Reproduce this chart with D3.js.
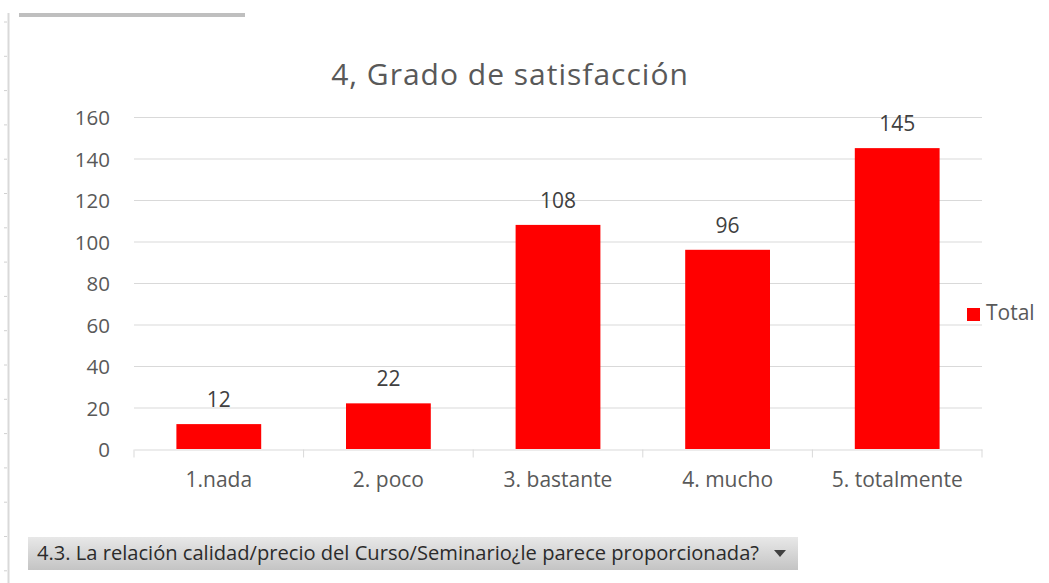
<!DOCTYPE html>
<html><head><meta charset="utf-8">
<script src="https://cdn.jsdelivr.net/npm/d3@7"></script>
<style>body{margin:0;background:#fff}svg{display:block}</style>
</head><body>
<script>
const categories = ["1.nada", "2. poco", "3. bastante", "4. mucho", "5. totalmente"];
const totals = [12, 22, 108, 96, 145];
const yTicks = [0, 20, 40, 60, 80, 100, 120, 140, 160];
const title = "4, Grado de satisfacción";
const seriesName = "Total";
const filterText = "4.3. La relación calidad/precio del  Curso/Seminario¿le parece proporcionada?";

const W = 1049, H = 583;
const svg = d3.select("body").append("svg").attr("width", W).attr("height", H);
const font = "'Open Sans', 'Noto Sans', sans-serif";

// left frame
svg.append("line").attr("x1", 8.5).attr("x2", 8.5).attr("y1", 13).attr("y2", H).attr("stroke", "#d9d9d9").attr("stroke-width", 2);
d3.range(22, H, 34.3).forEach(y => {
  svg.append("line").attr("x1", 4).attr("x2", 7).attr("y1", y).attr("y2", y).attr("stroke", "#d0d0d0");
});
svg.append("rect").attr("x", 19).attr("y", 13).attr("width", 226).attr("height", 4).attr("fill", "#bfbfbf");

const x = d3.scaleBand().domain(categories).range([134, 982]).paddingInner(0.5).paddingOuter(0.25);
const y = d3.scaleLinear().domain([0, 160]).range([449, 117]);

// gridlines
svg.append("g").selectAll("line").data(yTicks.filter(d => d > 0)).join("line")
  .attr("x1", 134).attr("x2", 982).attr("y1", d => y(d) + 0.5).attr("y2", d => y(d) + 0.5)
  .attr("stroke", "#d9d9d9");

// y labels
svg.append("g").selectAll("text").data(yTicks).join("text")
  .attr("x", 110).attr("y", d => y(d) + 1).attr("dy", "0.36em").attr("text-anchor", "end")
  .attr("font-family", font).attr("font-size", 20.5).attr("fill", "#595959").text(d => d);

// bars
svg.append("g").selectAll("rect").data(totals).join("rect")
  .attr("x", (d, i) => x(categories[i])).attr("width", x.bandwidth())
  .attr("y", d => y(d)).attr("height", d => y(0) - y(d)).attr("fill", "#ff0000");

// data labels
svg.append("g").selectAll("text").data(totals).join("text")
  .attr("x", (d, i) => x(categories[i]) + x.bandwidth() / 2).attr("y", d => y(d) - 17)
  .attr("text-anchor", "middle").attr("font-family", font).attr("font-size", 21).attr("fill", "#404040").text(d => d);

// x axis
const xAxis = d3.axisBottom(x).tickSize(0).tickPadding(0);
const gx = svg.append("g").attr("transform", "translate(0,449.5)").call(xAxis);
gx.select(".domain").attr("stroke", "#d9d9d9");
gx.selectAll("text").attr("font-family", font).attr("font-size", 21).attr("fill", "#595959")
  .attr("dy", null).attr("y", 37.5);
const bounds = d3.range(categories.length + 1).map(i => 134 + i * (848 / categories.length));
gx.selectAll(".sep").data(bounds).join("line").attr("class", "sep")
  .attr("x1", d => d).attr("x2", d => d).attr("y1", 0).attr("y2", 8).attr("stroke", "#d9d9d9");

// title
svg.append("text").attr("x", 510).attr("y", 85).attr("text-anchor", "middle")
  .attr("font-family", font).attr("font-size", 30).attr("letter-spacing", 1).attr("fill", "#595959").text(title);

// legend
svg.append("rect").attr("x", 967).attr("y", 308).attr("width", 13).attr("height", 13).attr("fill", "#ff0000");
svg.append("text").attr("x", 986).attr("y", 320).attr("font-family", font)
  .attr("font-size", 21).attr("fill", "#595959").text(seriesName);

// filter button
const defs = svg.append("defs");
const grad = defs.append("linearGradient").attr("id", "g1").attr("x1", 0).attr("x2", 0).attr("y1", 0).attr("y2", 1);
grad.append("stop").attr("offset", "0%").attr("stop-color", "#e8e8e8");
grad.append("stop").attr("offset", "100%").attr("stop-color", "#c4c4c4");
svg.append("rect").attr("x", 28).attr("y", 537).attr("width", 770).attr("height", 33).attr("fill", "url(#g1)");
svg.append("text").attr("x", 37).attr("y", 560).attr("font-family", font)
  .attr("font-size", 20).attr("fill", "#2b2b2b").attr("textLength", 722).attr("lengthAdjust", "spacingAndGlyphs").text(filterText);
svg.append("path").attr("d", "M774,550 L786,550 L780,557 Z").attr("fill", "#404040");
</script>
</body></html>
